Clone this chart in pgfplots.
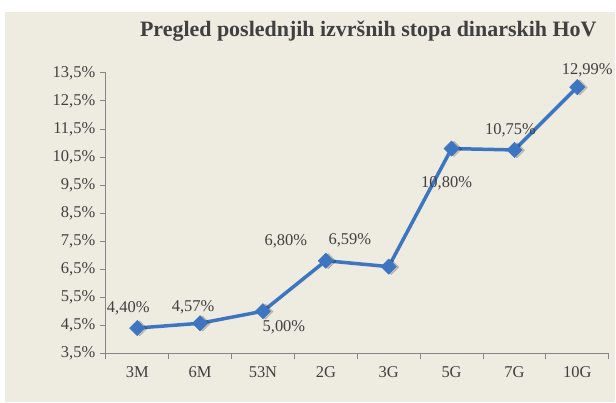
\documentclass[border=0pt]{standalone}
\usepackage{pgfplots}
\usepackage{pgfplotstable}
\pgfplotsset{compat=1.18}
\usepackage{fontspec}
\setmainfont{Liberation Serif}
\definecolor{bg}{RGB}{238,235,224}
\definecolor{linecol}{RGB}{62,117,192}
\definecolor{txt}{RGB}{64,64,64}
\definecolor{axgray}{RGB}{134,134,134}
\pgfplotstableread{
x y dx dy
1 4.40 -9 20
2 4.57 -7 16
3 5.00 21 -16
4 6.80 -40 19
5 6.59 -39 26
6 10.80 -5 -35
7 10.75 -4 20
8 12.99 10 17
}\data
\begin{document}
\begin{tikzpicture}
\fill[white] (-106pt,-49pt) rectangle (510pt,354pt);
\fill[bg] (-101pt,-49pt) rectangle (510pt,342pt);
\node[font=\fontsize{22}{24}\selectfont\bfseries, text=txt] at (263pt,323pt) {Pregled poslednjih izvršnih stopa dinarskih HoV};
\begin{axis}[
  at={(0pt,0pt)}, anchor=origin,
  scale only axis, width=504pt, height=281pt,
  xmin=0.5, xmax=8.5, ymin=3.5, ymax=13.5,
  axis x line=bottom, axis y line=left,
  axis line style={-, draw=axgray, line width=0.8pt},
  tick style={draw=axgray, line width=0.8pt},
  tick align=outside,
  major tick length=6pt,
  xtick={1,...,8},
  xticklabels={3M,6M,53N,2G,3G,5G,7G,10G},
  major x tick style={draw=none},
  minor xtick={0.5,1.5,...,8.5},
  minor tick length=6pt,
  ytick={3.5,4.5,...,13.5},
  yticklabels={{3,5\%},{4,5\%},{5,5\%},{6,5\%},{7,5\%},{8,5\%},{9,5\%},{10,5\%},{11,5\%},{12,5\%},{13,5\%}},
  ticklabel style={font=\fontsize{16.5}{18}\selectfont, text=txt},
  xticklabel style={yshift=-4pt},
  yticklabel style={xshift=-1pt},
  /pgf/number format/assume math mode=true,
  clip=false,
]
\addplot[only marks, mark=square*, mark size=5.4pt,
  mark options={rotate=45, fill=black, draw=none, opacity=0.18, xshift=1.5pt, yshift=-2pt}]
  table[x=x,y=y] {\data};
\addplot[color=linecol, line width=3.5pt, mark=square*, mark size=5.4pt,
  mark options={rotate=45, fill=linecol, draw=linecol, line width=0.5pt},
  point meta=y,
  visualization depends on={\thisrow{dx} \as \dx},
  visualization depends on={\thisrow{dy} \as \dy},
  nodes near coords={\pgfmathprintnumber[fixed,fixed zerofill,precision=2,use comma]{\pgfplotspointmeta}\%},
  every node near coord/.append style={anchor=center, rotate=0, xshift=\dx pt, yshift=\dy pt, font=\fontsize{16.5}{18}\selectfont, text=txt},
] table[x=x,y=y] {\data};
\end{axis}
\end{tikzpicture}
\end{document}
